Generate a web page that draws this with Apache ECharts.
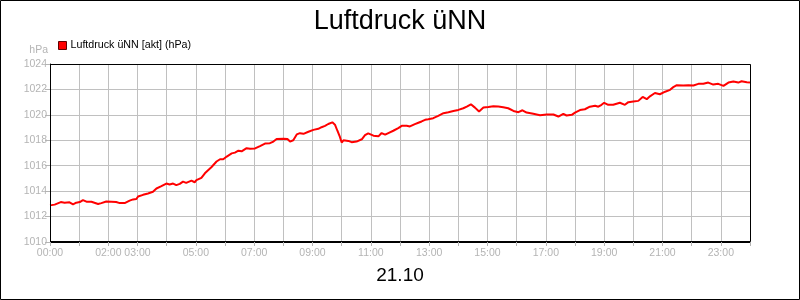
<!DOCTYPE html>
<html>
<head>
<meta charset="utf-8">
<script src="https://cdn.jsdelivr.net/npm/echarts@6/dist/echarts.min.js"></script>
<style>
html,body{margin:0;padding:0;background:#fff;}
#c{width:800px;height:300px;}
</style>
</head>
<body>
<div id="c"></div>
<script>
// Time of day in decimal hours
var hours = [
0.00,0.16,0.37,0.50,0.67,0.79,0.90,1.02,1.13,1.25,1.42,1.65,1.76,1.93,2.10,2.27,2.39,2.56,2.73,2.85,2.96,
3.02,3.19,3.36,3.53,3.65,3.82,3.99,4.10,4.22,4.33,4.45,4.56,4.67,4.85,4.96,5.02,5.19,5.31,5.54,5.71,5.83,5.94,
6.06,6.23,6.34,6.46,6.57,6.74,6.86,7.03,7.20,7.37,7.54,7.66,7.77,8.00,8.14,8.23,8.34,8.46,8.57,8.69,8.86,
9.03,9.20,9.31,9.43,9.54,9.68,9.77,9.85,9.94,10.00,10.06,10.23,10.34,10.51,10.69,10.80,10.91,11.09,11.26,11.37,
11.49,11.60,11.77,11.94,12.06,12.23,12.34,12.40,12.51,12.63,12.74,12.86,12.97,13.14,13.31,13.49,13.66,13.83,
14.00,14.17,14.29,14.43,14.57,14.71,14.86,15.03,15.20,15.37,15.54,15.71,15.89,16.06,16.20,16.34,16.57,16.80,
17.03,17.26,17.43,17.60,17.71,17.89,18.00,18.17,18.34,18.51,18.69,18.80,18.91,19.00,19.14,19.31,19.54,19.71,
19.83,20.00,20.17,20.32,20.46,20.57,20.74,20.91,21.09,21.26,21.37,21.49,21.71,21.89,22.06,22.23,22.40,22.57,
22.74,22.91,23.09,23.26,23.43,23.60,23.71,23.89,24.00
];
// Air pressure above sea level (hPa)
var pressure = [
1012.88,1012.94,1013.14,1013.09,1013.12,1012.96,1013.09,1013.14,1013.30,1013.17,1013.17,1012.99,1013.06,1013.19,1013.17,1013.14,1013.06,1013.06,1013.25,1013.35,1013.38,
1013.58,1013.71,1013.82,1013.95,1014.21,1014.39,1014.60,1014.52,1014.60,1014.47,1014.57,1014.75,1014.65,1014.83,1014.70,1014.86,1015.04,1015.40,1015.90,1016.33,1016.51,1016.51,
1016.72,1016.97,1017.03,1017.18,1017.13,1017.38,1017.33,1017.36,1017.54,1017.74,1017.77,1017.90,1018.10,1018.13,1018.10,1017.90,1018.00,1018.46,1018.56,1018.51,1018.67,
1018.82,1018.90,1019.03,1019.13,1019.28,1019.41,1019.23,1018.77,1018.26,1017.82,1018.00,1017.95,1017.85,1017.90,1018.08,1018.40,1018.55,1018.36,1018.31,1018.57,
1018.44,1018.57,1018.75,1018.96,1019.14,1019.14,1019.09,1018.94,1019.27,1019.38,1019.48,1019.61,1019.66,1019.74,1019.92,1020.13,1020.21,1020.31,
1020.39,1020.52,1020.65,1020.83,1020.57,1020.26,1020.57,1020.62,1020.68,1020.65,1020.60,1020.52,1020.31,1020.21,1020.36,1020.18,1020.08,1019.97,
1020.02,1020.03,1019.87,1020.08,1019.95,1020.00,1020.18,1020.38,1020.44,1020.64,1020.72,1020.64,1020.79,1020.95,1020.79,1020.79,1020.95,1020.79,
1021.00,1021.05,1021.10,1021.41,1021.23,1021.46,1021.72,1021.62,1021.82,1021.97,1022.18,1022.33,1022.31,1022.33,1022.31,1022.44,1022.44,1022.54,
1022.38,1022.44,1022.28,1022.54,1022.62,1022.54,1022.64,1022.56,1022.54
];
// Hours that get a label on the x axis
var labelHours = [0,2,3,5,7,9,11,13,15,17,19,21,23];
var titleText = 'Luftdruck üNN';
var seriesName = 'Luftdruck üNN [akt] (hPa)';
var dateText = '21.10';
var unitText = 'hPa';

var data = hours.map(function(h,i){return [h, pressure[i]];});
var FONT = '"Liberation Sans", Arial, sans-serif';
var GRAY = '#b4b4b4';
var GRID = '#c0c0c0';

var chart = echarts.init(document.getElementById('c'), null, {renderer:'canvas'});
chart.setOption({
  animation:false,
  backgroundColor:'#fff',
  textStyle:{fontFamily:FONT},
  title:{
    text:titleText, left:'center', top:3,
    textStyle:{fontSize:27, fontWeight:'normal', color:'#000', fontFamily:FONT}
  },
  legend:{
    left:58, top:40, padding:0, icon:'rect', itemWidth:8, itemHeight:8, itemGap:10,
    itemStyle:{borderColor:'#600000', borderWidth:1},
    textStyle:{fontSize:10.7, color:'#000', fontFamily:FONT, padding:[0,0,0,-1]},
    data:[seriesName]
  },
  grid:{left:50, right:50, top:64, bottom:58, containLabel:false},
  xAxis:{
    type:'value', min:0, max:24, interval:1,
    axisLine:{show:true, onZero:false, lineStyle:{color:'#000', width:1}},
    axisTick:{show:true, length:4, lineStyle:{color:GRAY}},
    axisLabel:{
      color:GRAY, fontSize:10.5, fontFamily:FONT, margin:6,
      showMinLabel:true, showMaxLabel:true,
      formatter:function(v){
        var h = Math.round(v);
        if (labelHours.indexOf(h) < 0) return '';
        return (h<10?'0':'') + h + ':00';
      }
    },
    splitLine:{show:true, lineStyle:{color:GRID, width:1}}
  },
  yAxis:{
    type:'value', min:1010, max:1024, interval:2,
    axisLine:{show:true, lineStyle:{color:'#000', width:1}},
    axisTick:{show:true, length:5, lineStyle:{color:GRAY}},
    axisLabel:{color:GRAY, fontSize:10.5, fontFamily:FONT, margin:3,
      formatter:function(v){return String(Math.round(v));}},
    splitLine:{show:true, lineStyle:{color:GRID, width:1}}
  },
  series:[{
    name:seriesName, type:'line', data:data, showSymbol:false, symbol:'none',
    color:'#ff0000',
    lineStyle:{color:'#ff0000', width:2},
    z:5
  }],
  graphic:[
    {type:'rect', z:100, silent:true,
     shape:{x:0.5, y:0.5, width:799, height:299},
     style:{fill:'none', stroke:'#000', lineWidth:1}},
    {type:'rect', z:100, silent:true,
     shape:{x:50.5, y:64.5, width:700, height:177},
     style:{fill:'none', stroke:'#000', lineWidth:1}},
    {type:'text', z:100, silent:true, x:48, y:50,
     style:{text:unitText, fill:GRAY, font:'10.5px ' + FONT, align:'right', verticalAlign:'middle'}},
    {type:'text', z:100, silent:true, x:400, y:276,
     style:{text:dateText, fill:'#000', font:'19px ' + FONT, align:'center', verticalAlign:'middle'}}
  ]
});
</script>
</body>
</html>
